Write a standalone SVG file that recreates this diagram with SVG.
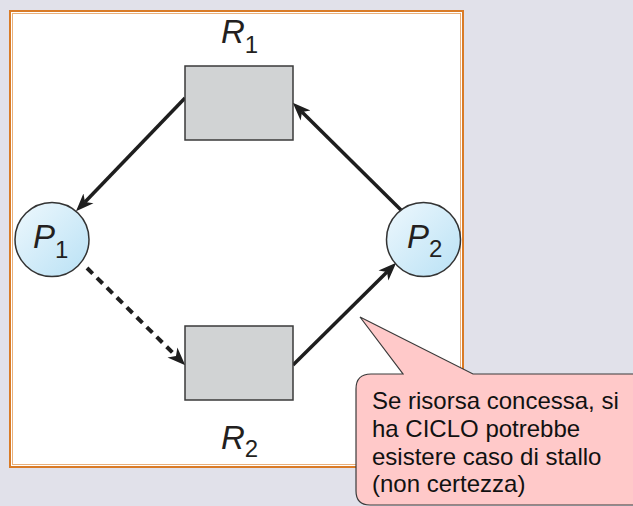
<svg xmlns="http://www.w3.org/2000/svg" width="633" height="506" viewBox="0 0 633 506">
<defs>
<style>
.res{fill:#d1d3d4;stroke:#3a3a3a;stroke-width:1.5}
.proc{fill:url(#pg);stroke:#333;stroke-width:1.5}
.lbl{font-family:"Liberation Sans",Arial,sans-serif;font-style:italic;font-size:33px;fill:#231f20}
.sub{font-style:normal;font-size:24px}
.edge{stroke:#1e1e1e;stroke-width:3.5;fill:none}
.dash{stroke-dasharray:8 6;stroke-width:4}
.note{font-family:"Liberation Sans",Arial,sans-serif;font-size:24px;fill:#111}
</style>
<linearGradient id="pg" x1="0" y1="0" x2="1" y2="1">
<stop offset="0" stop-color="#eef8fd"/>
<stop offset="1" stop-color="#b9e1f5"/>
</linearGradient>
<marker id="ah" markerUnits="userSpaceOnUse" viewBox="0 -9 18 18" markerWidth="18" markerHeight="18" refX="5" refY="0" orient="auto">
<path d="M18,0 L0,-7 L5,0 L0,7 Z" fill="#1e1e1e"/>
</marker>
</defs>
<rect width="633" height="506" fill="#e1e1ea"/>
<g id="frame">
<rect x="10" y="11" width="453" height="456" fill="#fff" stroke="#d97b27" stroke-width="2"/>
<rect x="12.5" y="13.5" width="448" height="451" fill="none" stroke="#eab07a" stroke-width="1"/>
</g>
<g id="connectors">
<line class="edge" x1="185" y1="98" x2="85" y2="202" marker-end="url(#ah)"/>
<line class="edge" x1="402" y1="211" x2="302" y2="112" marker-end="url(#ah)"/>
<line class="edge dash" x1="87" y1="268" x2="176" y2="356" marker-end="url(#ah)"/>
<line class="edge" x1="293" y1="365" x2="387" y2="272" marker-end="url(#ah)"/>
</g>
<g id="R1">
<rect class="res" x="185" y="66" width="108" height="74"/>
<text class="lbl" x="221" y="43">R<tspan class="sub" dy="10">1</tspan></text>
</g>
<g id="R2">
<rect class="res" x="185" y="326" width="108" height="74"/>
<text class="lbl" x="221" y="449">R<tspan class="sub" dy="8">2</tspan></text>
</g>
<g id="P1">
<circle class="proc" cx="52" cy="239.5" r="37"/>
<text class="lbl" x="33" y="248">P<tspan class="sub" dy="10">1</tspan></text>
</g>
<g id="P2">
<circle class="proc" cx="423.5" cy="239.5" r="37"/>
<text class="lbl" x="407" y="248">P<tspan class="sub" dy="9">2</tspan></text>
</g>
<g id="callout">
<path d="M371,374 L403,374 L360,317 L473,374 L660,374 L660,505 L370,505 Q356,505 356,491 L356,389 Q356,374 371,374 Z" fill="#ffc9c9" stroke="#3a3a3a" stroke-width="1.2"/>
<text class="note" x="372" y="409">Se risorsa concessa, si</text>
<text class="note" x="372" y="437">ha CICLO potrebbe</text>
<text class="note" x="372" y="464.5">esistere caso di stallo</text>
<text class="note" x="372" y="492">(non certezza)</text>
</g>
</svg>
